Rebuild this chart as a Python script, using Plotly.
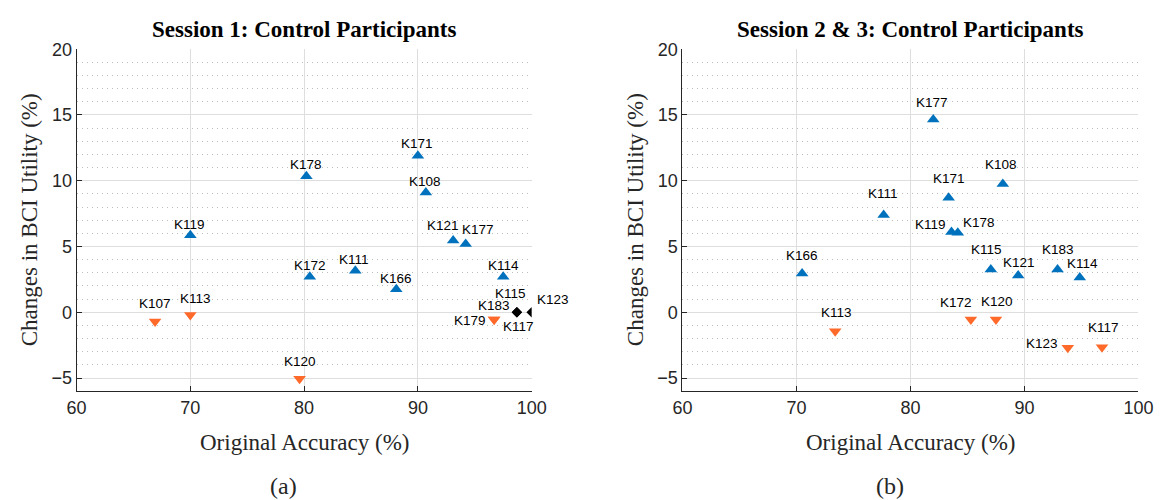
import plotly.graph_objects as go

# ---------------- Data: Session 1 ----------------
s1_up_names = ["K178", "K171", "K108", "K119", "K121", "K177", "K114", "K172", "K111", "K166"]
s1_up_x = [80.2, 90.0, 90.7, 70.0, 93.1, 94.2, 97.5, 80.5, 84.5, 88.1]
s1_up_y = [10.35, 11.9, 9.1, 5.85, 5.45, 5.2, 2.7, 2.7, 3.15, 1.75]

s1_down_names = ["K107", "K113", "K120", "K179", "K183"]
s1_down_x = [66.9, 70.0, 79.6, 96.7, 96.7]
s1_down_y = [-0.7, -0.2, -5.05, -0.55, -0.55]

s1_zero_names = ["K115", "K117", "K123"]
s1_zero_x = [98.7, 98.7, 100.0]
s1_zero_y = [0.0, 0.0, 0.0]

# ---------------- Data: Session 2 & 3 ----------------
s2_up_names = ["K177", "K108", "K171", "K111", "K119", "K178", "K166", "K115", "K121", "K183", "K114"]
s2_up_x = [82.0, 88.1, 83.35, 77.65, 83.6, 84.15, 70.5, 87.05, 89.45, 92.9, 94.85]
s2_up_y = [14.65, 9.75, 8.7, 7.4, 6.1, 6.05, 2.95, 3.25, 2.8, 3.25, 2.65]

s2_down_names = ["K113", "K172", "K120", "K123", "K117"]
s2_down_x = [73.4, 85.3, 87.5, 93.8, 96.8]
s2_down_y = [-1.45, -0.55, -0.55, -2.7, -2.65]

x_ticks = [60, 70, 80, 90, 100]
y_ticks = [-5, 0, 5, 10, 15, 20]

# ---------------- Styling ----------------
BLUE = "#0072BD"
ORANGE = "#FF6A2B"
BLACK = "#000000"
AXIS = "#262626"
GRID = "#DEDEDE"
MINOR = "#BDBDBD"

# label pixel offsets (dx right, dy up) relative to the marker
s1_label_off = {
    "K178": (0, 11), "K171": (-1, 11), "K108": (-1, 10), "K119": (-1, 10),
    "K121": (-10, 14), "K177": (12, 13), "K114": (0, 10), "K172": (0, 10),
    "K111": (-1, 10), "K166": (0, 10), "K107": (0, 17), "K113": (5, 15),
    "K120": (0, 16), "K183": (0, 13), "K179": (-24, -2), "K115": (-6, 18),
    "K117": (2, -15), "K123": (21, 12),
}
s2_label_off = {
    "K177": (-1, 16), "K108": (-2, 19), "K171": (0, 18), "K111": (-1, 20),
    "K119": (-21, 7), "K178": (21, 9), "K166": (0, 17), "K115": (-4, 19),
    "K121": (1, 12), "K183": (0, 19), "K114": (3, 13), "K113": (1, 18),
    "K172": (-15, 16), "K120": (1, 17), "K123": (-26, 3), "K117": (1, 19),
}

fig = go.Figure()


def add_series(xs, ys, color, symbol, size, xa, ya):
    fig.add_trace(go.Scatter(
        x=xs, y=ys, mode="markers", xaxis=xa, yaxis=ya,
        marker=dict(color=color, symbol=symbol, size=size, line=dict(width=0)),
        showlegend=False, hoverinfo="x+y",
    ))


add_series(s1_up_x, s1_up_y, BLUE, "triangle-up", 11, "x", "y")
add_series(s1_down_x, s1_down_y, ORANGE, "triangle-down", 11, "x", "y")
add_series(s1_zero_x, s1_zero_y, BLACK, "diamond", 8, "x", "y")
add_series(s2_up_x, s2_up_y, BLUE, "triangle-up", 11, "x2", "y2")
add_series(s2_down_x, s2_down_y, ORANGE, "triangle-down", 11, "x2", "y2")

annotations = []


def add_labels(names, xs, ys, offsets, xref, yref):
    for n, xv, yv in zip(names, xs, ys):
        dx, dy = offsets[n]
        annotations.append(dict(
            x=xv, y=yv, xref=xref, yref=yref, text=n, showarrow=False,
            xshift=dx, yshift=dy + 1,
            font=dict(family="Liberation Sans, Arial, sans-serif", size=13.5, color="black"),
        ))


add_labels(s1_up_names, s1_up_x, s1_up_y, s1_label_off, "x", "y")
add_labels(s1_down_names, s1_down_x, s1_down_y, s1_label_off, "x", "y")
add_labels(s1_zero_names, s1_zero_x, s1_zero_y, s1_label_off, "x", "y")
add_labels(s2_up_names, s2_up_x, s2_up_y, s2_label_off, "x2", "y2")
add_labels(s2_down_names, s2_down_x, s2_down_y, s2_label_off, "x2", "y2")

W, H = 1176, 500
SERIF = "Liberation Serif, Times New Roman, serif"

panels = [
    dict(title="Session 1: Control Participants", x0=68, x1=533, cap="(a)"),
    dict(title="Session 2 &amp; 3: Control Participants", x0=687, x1=1153, cap="(b)"),
]
for p in panels:
    cx = (p["x0"] + p["x1"]) / 2 / W
    annotations.append(dict(
        x=cx, y=1 - 20 / H, xref="paper", yref="paper", text="<b>" + p["title"] + "</b>",
        showarrow=False, xanchor="center", yanchor="middle",
        font=dict(family=SERIF, size=23, color="black"),
    ))
    annotations.append(dict(
        x=cx, y=1 - 441 / H, xref="paper", yref="paper", text="Original Accuracy (%)",
        showarrow=False, xanchor="center", yanchor="middle",
        font=dict(family=SERIF, size=23, color="#262626"),
    ))
    annotations.append(dict(
        x=(p["x0"] - 48) / W, y=1 - 214 / H, xref="paper", yref="paper",
        text="Changes in BCI Utility (%)", textangle=-90,
        showarrow=False, xanchor="center", yanchor="middle",
        font=dict(family=SERIF, size=23, color="#262626"),
    ))
    annotations.append(dict(
        x=(cx * W - 21) / W, y=1 - 486 / H, xref="paper", yref="paper", text=p["cap"],
        showarrow=False, xanchor="center", yanchor="middle",
        font=dict(family=SERIF, size=24, color="#262626"),
    ))

ydom = [1 - 389 / H, 1 - 40 / H]


def xaxis_cfg(x0, x1):
    return dict(
        domain=[x0 / W, x1 / W], range=[60, 100], tickvals=x_ticks,
        showgrid=True, gridcolor=GRID, gridwidth=1,
        showline=True, linecolor=AXIS, linewidth=1, mirror=False,
        ticks="inside", ticklen=5, tickcolor=AXIS, tickwidth=1,
        tickfont=dict(family="Liberation Sans, Arial, sans-serif", size=18, color=AXIS),
        zeroline=False, fixedrange=True, layer="below traces",
    )


def yaxis_cfg(anchor):
    return dict(
        domain=ydom, range=[-6, 20], tickvals=y_ticks, anchor=anchor,
        showgrid=True, gridcolor=GRID, gridwidth=1,
        minor=dict(dtick=1, tick0=0, showgrid=True, gridcolor=MINOR,
                   griddash="1px,4px", gridwidth=1),
        showline=True, linecolor=AXIS, linewidth=1, mirror=False,
        ticks="inside", ticklen=5, tickcolor=AXIS, tickwidth=1,
        tickfont=dict(family="Liberation Sans, Arial, sans-serif", size=18, color=AXIS),
        zeroline=False, fixedrange=True,
    )


fig.update_layout(
    width=W, height=H, autosize=False,
    margin=dict(l=0, r=0, t=0, b=0, pad=0),
    paper_bgcolor="white", plot_bgcolor="white",
    xaxis=dict(**xaxis_cfg(68, 533), anchor="y"),
    yaxis=yaxis_cfg("x"),
    xaxis2=dict(**xaxis_cfg(687, 1153), anchor="y2"),
    yaxis2=yaxis_cfg("x2"),
    annotations=annotations,
    showlegend=False,
)

fig.write_html("out.html", config={"responsive": False})
